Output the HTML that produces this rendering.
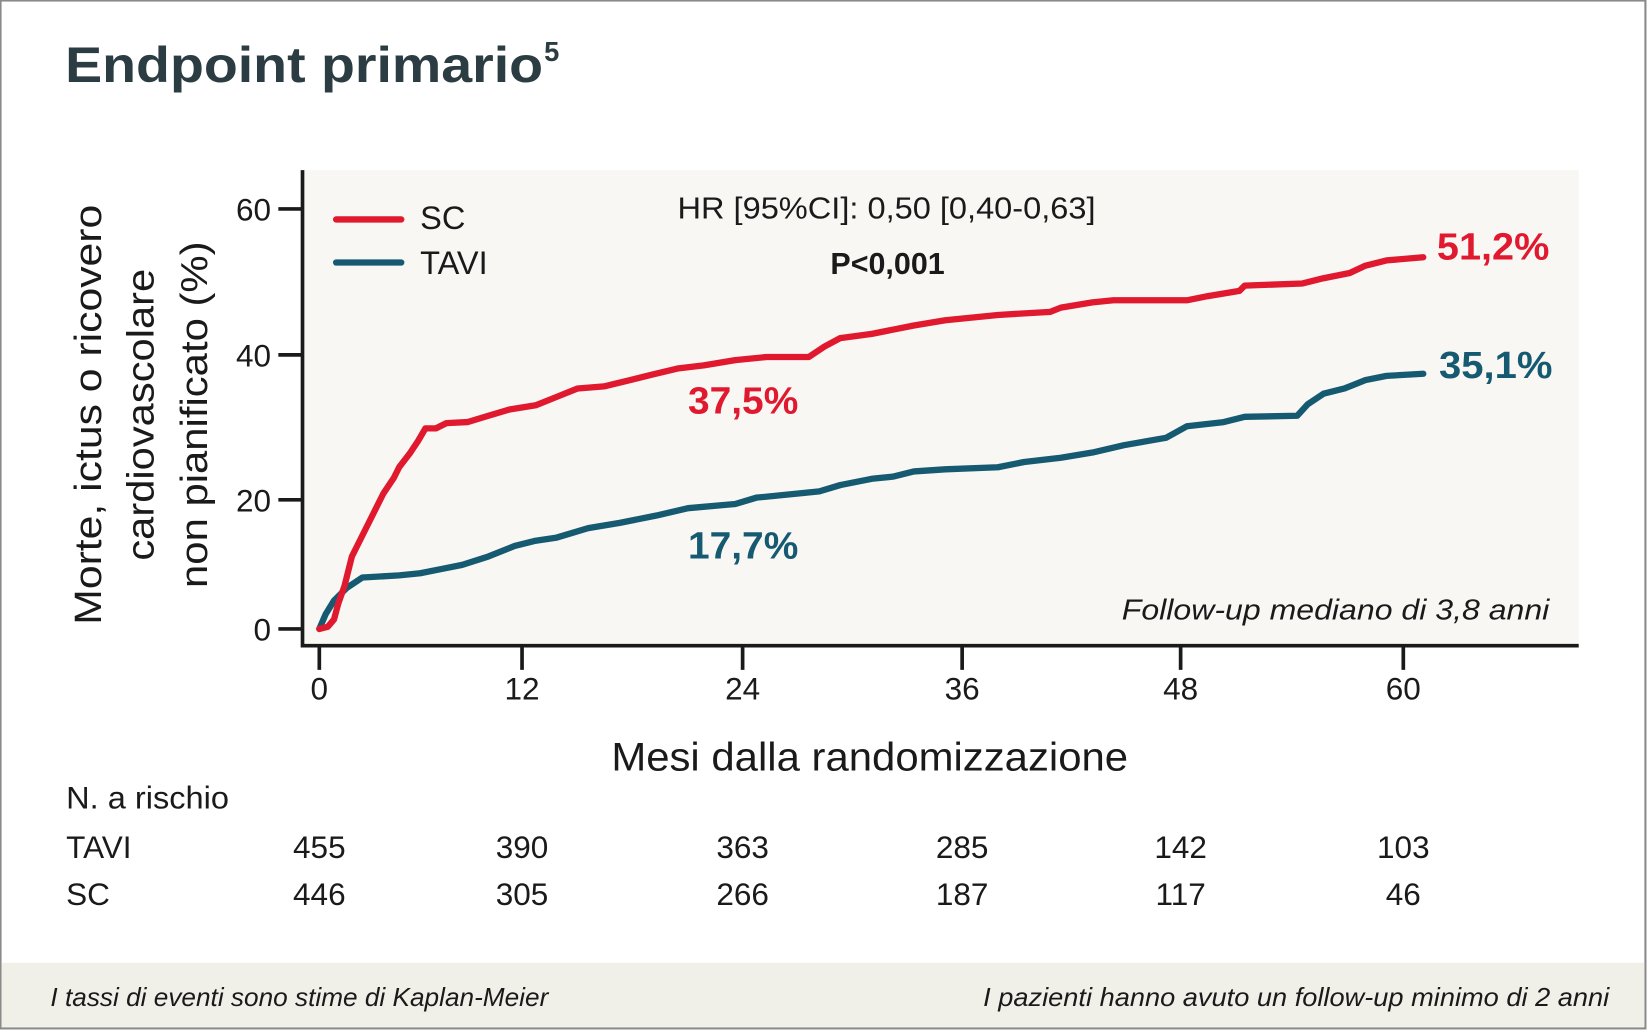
<!DOCTYPE html>
<html><head><meta charset="utf-8"><style>
html,body{margin:0;padding:0;background:#fff;}
svg{display:block;font-family:"Liberation Sans",sans-serif;}
</style></head><body>
<svg width="1647" height="1030" viewBox="0 0 1568 981" preserveAspectRatio="none" xmlns="http://www.w3.org/2000/svg">
<rect x="0.5" y="0.5" width="1566" height="979" fill="#fff" stroke="#8a8a8a" stroke-width="2"/>
<rect x="1.5" y="917" width="1564" height="61" fill="#f0efe8"/>
<text x="62" y="78" font-size="48" font-weight="bold" fill="#2b3c42" textLength="455" lengthAdjust="spacingAndGlyphs">Endpoint primario</text>
<text x="518" y="58" font-size="26" font-weight="bold" fill="#2b3c42">5</text>
<rect x="288" y="162" width="1215" height="453" fill="#f8f7f4"/>
<g stroke="#1a1a1a" stroke-width="3.5" fill="none">
<path d="M288,162 V615 H1503"/>
<path d="M265,199H288M265,338H288M265,476H288M265,599H288"/>
<path d="M304,615V638M497,615V638M707,615V638M916,615V638M1124,615V638M1336,615V638"/>
</g>
<g font-size="30" fill="#1a1a1a" text-anchor="end">
<text x="258" y="210">60</text><text x="258" y="349">40</text><text x="258" y="487">20</text><text x="258" y="610">0</text>
</g>
<g font-size="30" fill="#1a1a1a" text-anchor="middle">
<text x="304" y="666">0</text><text x="497" y="666">12</text><text x="707" y="666">24</text><text x="916" y="666">36</text><text x="1124" y="666">48</text><text x="1336" y="666">60</text>
</g>
<g fill="none" stroke-width="6" stroke-linejoin="round" stroke-linecap="round">
<polyline stroke="#165a72" points="304,599 310,585 318,572 330,560 345,550 380,548 400,546 420,542 440,538 465,530 490,520 510,515 530,512 560,503 590,498 625,491 655,484 700,480 720,474 760,470 780,468 800,462 830,456 850,454 870,449 900,447 950,445 975,440 1010,436 1040,431 1070,424 1110,417 1130,406 1165,402 1185,397 1235,396 1245,385 1260,375 1280,370 1300,362 1320,358 1355,356"/>
<polyline stroke="#e0192f" points="304,599 312,597 318,590 322,575 328,558 335,530 345,510 355,490 365,470 375,455 380,445 390,432 398,420 405,408 415,408 425,403 445,402 465,396 485,390 510,386 530,378 550,370 575,368 600,362 620,357 645,351 670,348 700,343 730,340 770,340 785,330 800,322 830,318 850,314 870,310 900,305 950,300 1000,297 1010,293 1040,288 1060,286 1130,286 1150,282 1180,277 1185,272 1240,270 1260,265 1285,260 1300,253 1320,248 1355,245"/>
<line x1="320" y1="209" x2="382" y2="209" stroke="#e0192f"/>
<line x1="320" y1="250" x2="382" y2="250" stroke="#165a72"/>
</g>
<g font-size="31" fill="#1a1a1a">
<text x="400" y="218">SC</text><text x="400" y="261">TAVI</text>
<text x="645" y="208" font-size="29" textLength="398" lengthAdjust="spacingAndGlyphs">HR [95%CI]: 0,50 [0,40-0,63]</text>
<text x="845" y="261" font-size="29" font-weight="bold" text-anchor="middle">P&lt;0,001</text>
</g>
<g font-size="36" font-weight="bold">
<text x="655" y="394" fill="#e0192f" textLength="105" lengthAdjust="spacingAndGlyphs">37,5%</text>
<text x="655" y="532" fill="#165a72" textLength="105" lengthAdjust="spacingAndGlyphs">17,7%</text>
<text x="1368" y="247" fill="#e0192f" textLength="107" lengthAdjust="spacingAndGlyphs">51,2%</text>
<text x="1370" y="360" fill="#165a72" textLength="108" lengthAdjust="spacingAndGlyphs">35,1%</text>
</g>
<text x="1068" y="590" font-size="27" font-style="italic" fill="#1a1a1a" textLength="407" lengthAdjust="spacingAndGlyphs">Follow-up mediano di 3,8 anni</text>
<g font-size="36" fill="#1a1a1a" text-anchor="middle">
<text transform="translate(96,395) rotate(-90)" textLength="400" lengthAdjust="spacingAndGlyphs">Morte, ictus o ricovero</text>
<text transform="translate(146,395) rotate(-90)" textLength="278" lengthAdjust="spacingAndGlyphs">cardiovascolare</text>
<text transform="translate(197,395) rotate(-90)" textLength="330" lengthAdjust="spacingAndGlyphs">non pianificato (%)</text>
</g>
<text x="828" y="734" font-size="38" fill="#1a1a1a" text-anchor="middle" textLength="492" lengthAdjust="spacingAndGlyphs">Mesi dalla randomizzazione</text>
<g font-size="30" fill="#1a1a1a">
<text x="63" y="770" textLength="155" lengthAdjust="spacingAndGlyphs">N. a rischio</text>
<text x="63" y="817">TAVI</text><text x="63" y="862">SC</text>
</g>
<g font-size="30" fill="#1a1a1a" text-anchor="middle">
<text x="304" y="817">455</text><text x="497" y="817">390</text><text x="707" y="817">363</text><text x="916" y="817">285</text><text x="1124" y="817">142</text><text x="1336" y="817">103</text>
<text x="304" y="862">446</text><text x="497" y="862">305</text><text x="707" y="862">266</text><text x="916" y="862">187</text><text x="1124" y="862">117</text><text x="1336" y="862">46</text>
</g>
<g font-size="25" font-style="italic" fill="#1a1a1a">
<text x="48" y="958" textLength="474" lengthAdjust="spacingAndGlyphs">I tassi di eventi sono stime di Kaplan-Meier</text>
<text x="1532" y="958" text-anchor="end" textLength="596" lengthAdjust="spacingAndGlyphs">I pazienti hanno avuto un follow-up minimo di 2 anni</text>
</g>
</svg>
</body></html>
